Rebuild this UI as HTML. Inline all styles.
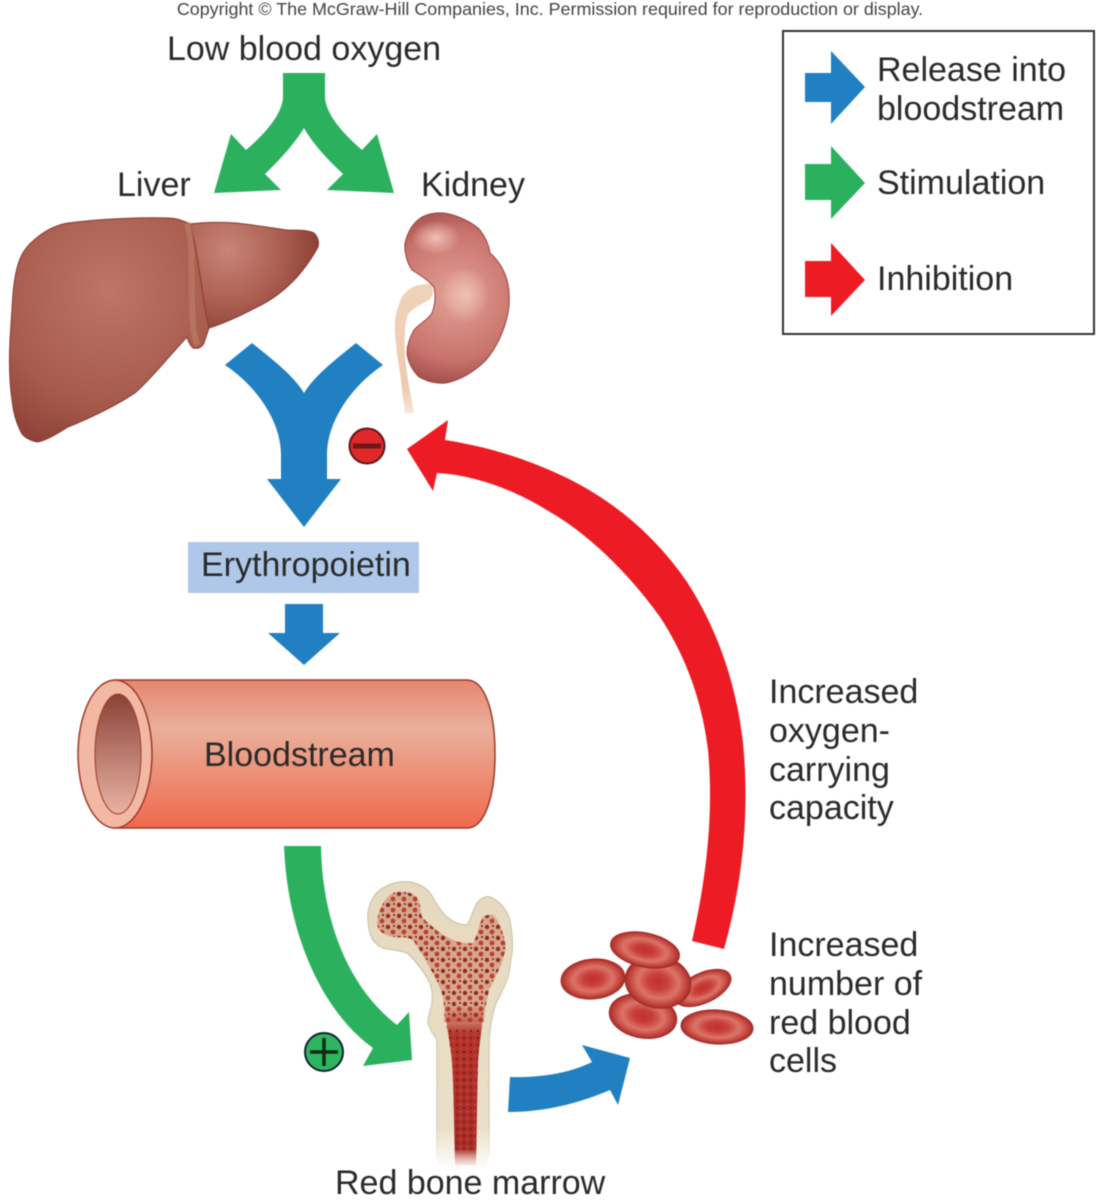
<!DOCTYPE html>
<html><head><meta charset="utf-8"><style>
html,body{margin:0;padding:0;background:#fff}
svg{display:block;filter:blur(.45px)}
text{font-family:"Liberation Sans",sans-serif;fill:#2a2a2a;font-size:34px}
</style></head><body>
<svg width="1099" height="1200" viewBox="0 0 1099 1200" xmlns="http://www.w3.org/2000/svg">
<defs>
<radialGradient id="liver" gradientUnits="userSpaceOnUse" cx="110" cy="290" r="190"><stop offset="0" stop-color="#bd7668"/><stop offset=".6" stop-color="#a65a4c"/><stop offset="1" stop-color="#86382f"/></radialGradient>
<radialGradient id="lobe" gradientUnits="userSpaceOnUse" cx="228" cy="250" r="95"><stop offset="0" stop-color="#c98578"/><stop offset=".6" stop-color="#a85c4e"/><stop offset="1" stop-color="#8b3c32"/></radialGradient>
<radialGradient id="kid" gradientUnits="userSpaceOnUse" cx="455" cy="295" r="100"><stop offset="0" stop-color="#e3a296"/><stop offset=".65" stop-color="#c8736c"/><stop offset="1" stop-color="#94403f"/></radialGradient>
<radialGradient id="kidhi" cx=".5" cy=".5" r=".5"><stop offset="0" stop-color="#f0c0b4"/><stop offset="1" stop-color="#f0c0b4" stop-opacity="0"/></radialGradient>
<linearGradient id="tube" x1="0" y1="0" x2="0" y2="1"><stop offset="0" stop-color="#e68670"/><stop offset=".33" stop-color="#eab09a"/><stop offset="1" stop-color="#f0694c"/></linearGradient>
<linearGradient id="inner" x1="0" y1="0" x2="0" y2="1"><stop offset="0" stop-color="#8a4238"/><stop offset="1" stop-color="#eab3a2"/></linearGradient>
<linearGradient id="ureter" x1="0" y1="0" x2="0" y2="1"><stop offset="0" stop-color="#f0d3ba"/><stop offset=".8" stop-color="#eecbb0"/><stop offset="1" stop-color="#f7e6da"/></linearGradient>
<linearGradient id="bone" x1="0" y1="0" x2="0" y2="1"><stop offset="0" stop-color="#e6d9bf"/><stop offset=".85" stop-color="#eadfc8"/><stop offset="1" stop-color="#fff"/></linearGradient>
<linearGradient id="bonestroke" x1="0" y1="0" x2="0" y2="1"><stop offset="0" stop-color="#cfcab0"/><stop offset=".85" stop-color="#d8d2b8"/><stop offset="1" stop-color="#fff"/></linearGradient>
<linearGradient id="marfade" x1="0" y1="0" x2="0" y2="1"><stop offset="0" stop-color="#b5332b" stop-opacity="0"/><stop offset=".18" stop-color="#b5332b"/><stop offset=".9" stop-color="#a92c26"/><stop offset="1" stop-color="#e9b5a5" stop-opacity=".3"/></linearGradient>
<radialGradient id="rbc" cx=".5" cy=".5" r=".5"><stop offset="0" stop-color="#c22f2e"/><stop offset=".3" stop-color="#c8403a"/><stop offset=".62" stop-color="#dc7468"/><stop offset=".85" stop-color="#c4483f"/><stop offset="1" stop-color="#a82c29"/></radialGradient>
<pattern id="spongy" width="11" height="11" patternUnits="userSpaceOnUse"><rect width="11" height="11" fill="#d9a68c"/><circle cx="3" cy="3" r="2.2" fill="#8c2c24"/><circle cx="8" cy="8" r="2.4" fill="#b8412f"/><circle cx="9" cy="2" r="1" fill="#6e1f1a"/></pattern>
<pattern id="marrow" width="7" height="7" patternUnits="userSpaceOnUse"><circle cx="2" cy="2" r="1.2" fill="#7f1d1c"/><circle cx="5.500" cy="5.500" r="1" fill="#c94f3c"/></pattern>
</defs>

<text x="550" y="15" text-anchor="middle" style="font-size:17.9px;fill:#444">Copyright © The McGraw-Hill Companies, Inc. Permission required for reproduction or display.</text>
<text x="304" y="60" text-anchor="middle">Low blood oxygen</text>
<text x="117" y="196">Liver</text>
<text x="421" y="196">Kidney</text>

<!-- top green split arrow -->
<path d="M283 73H325L325 98Q327 120 362 150L377 134L394 193L327 190L343 174Q315 148 304 128Q292 148 265 174L281 190L214 193L231 134L246 150Q281 120 283 98Z" fill="#2bb15e"/>

<!-- liver -->
<path d="M13 293C16 262 22 250 34 240C46 230 56 225 68 223C100 219 140 217 169 218C176 218 182 220 190 224L214 270L209 328L204 343C202 348 197 349 193 348C190 345 188 341 187 337C170 355 152 378 135 393C112 408 90 418 68 427C58 433 46 441 37 442C28 440 22 436 20 430C15 420 13 410 12 400C9 380 9 360 10 340C11 325 12 310 13 293Z" fill="url(#liver)" stroke="#8a3b31" stroke-width="1"/>
<path d="M190 224C205 222 220 222 236 223C255 225 272 228 287 230C298 230 308 230 314 233C319 238 319 243 318 247C312 258 305 268 297 277C285 290 272 300 257 307C240 316 225 323 209 328C202 300 200 260 190 224Z" fill="url(#lobe)" stroke="#8a3b31" stroke-width="1"/>
<path d="M187 223C195 250 190 290 193 325C194 335 196 342 198 345" stroke="#b8735f" stroke-width="6" fill="none"/>

<!-- kidney -->
<path d="M432 284C418 283 408 288 402 297C396 310 394 320 395 333C396 348 398 360 400 373C402 388 403 400 405 413H414C412 400 409 388 407 373C405 360 404 345 405 333C405 325 406 318 409 313C415 307 422 304 429 300C433 296 434 290 432 284Z" fill="url(#ureter)"/>
<path d="M405 243C408 230 414 222 422 217C432 212 443 212 453 215C465 219 474 224 480 230C486 238 489 245 490 253C498 260 504 270 507 280C510 292 510 302 508 313C504 332 496 348 486 360C474 372 460 380 446 383C435 384 426 381 419 377C412 370 408 362 407 353C407 345 410 337 414 330C420 323 428 320 432 313C435 305 436 296 434 287C428 280 420 275 412 270C407 263 404 251 405 243Z" fill="url(#kid)" stroke="#9a4442" stroke-width="1"/>
<ellipse cx="436" cy="238" rx="24" ry="17" fill="url(#kidhi)"/>
<ellipse cx="465" cy="295" rx="24" ry="28" fill="url(#kidhi)"/>

<!-- blue Y arrow -->
<path d="M225 365C255 385 281 420 281 455V479H267L304 527L341 479H327V455C327 420 353 385 383 365L356 343C335 360 315 375 304 393C293 375 273 360 252 343Z" fill="#2080c2"/>

<!-- minus -->
<circle cx="367" cy="446" r="17.5" fill="#e0282a" stroke="#5c1a1a" stroke-width="2"/>
<rect x="353" y="443.500" width="28" height="5" fill="#6a1a1a"/>

<!-- erythropoietin -->
<rect x="188" y="542" width="231" height="51" fill="#afc8e9"/>
<text x="201" y="576">Erythropoietin</text>
<path d="M285 604H323V633H340L304 665L268 633H285Z" fill="#2080c2"/>

<!-- bloodstream tube -->
<path d="M115 680H467C485 680 495 712 495 754C495 796 485 828 467 828H115Z" fill="url(#tube)" stroke="#9a3a2a" stroke-width="1.500"/>
<ellipse cx="115" cy="754" rx="37" ry="74" fill="#f3b8a4" stroke="#9a3a2a" stroke-width="1.500"/>
<ellipse cx="118" cy="754" rx="23" ry="60" fill="url(#inner)" stroke="#9a3a2a" stroke-width="1"/>
<text x="204" y="766">Bloodstream</text>

<!-- green curved arrow -->
<path d="M284 846H321C322 915 345 985 397 1025L409 1012L412 1060L363 1066L373 1048C320 1010 287 930 284 846Z" fill="#2bb15e"/>
<circle cx="324" cy="1052" r="19" fill="#2fb55f" stroke="#123" stroke-width="2"/>
<path d="M310 1052H338M324 1038V1066" stroke="#0e2a18" stroke-width="3.500"/>

<!-- bone -->
<path d="M368 913C370 900 375 894 380 890C390 883 400 881 410 882C420 884 426 888 430 893C436 903 441 912 447 917C453 922 460 925 467 925C472 918 473 909 477 903C481 898 485 896 490 897C498 900 505 908 509 917C512 930 513 942 512 953C510 962 510 970 508 977C504 988 500 996 496 1003C491 1018 489 1032 489 1047V1153C487 1160 484 1165 480 1170H445C440 1165 438 1160 437 1157V1040C434 1035 430 1030 428 1023C428 1015 431 1010 432 1003C433 995 432 990 430 983C423 970 415 960 407 953C400 950 391 950 383 948C376 945 372 940 370 933C368 926 368 920 368 913Z" fill="url(#bone)" stroke="url(#bonestroke)" stroke-width="1.500"/>
<path d="M377 923C378 910 385 897 393 893C402 890 411 892 417 897C421 904 420 911 422 917C430 925 438 932 447 937C456 942 465 944 473 943C478 935 478 925 483 917C488 914 492 914 495 917C501 925 504 935 506 947C503 962 497 975 490 987C487 998 485 1008 484 1022H444C445 1010 444 1000 441 990C433 972 423 955 413 940C406 936 400 938 393 937C384 935 378 932 377 923Z" fill="url(#spongy)"/>
<path d="M444 1005H484C482 1030 479 1045 478 1063C477 1095 477 1125 476 1165H455C454 1125 454 1095 452 1063C451 1045 447 1030 444 1005Z" fill="url(#marfade)"/>
<path d="M446 1025H482C480 1040 478 1050 478 1063C477 1095 477 1125 476 1150H455C454 1125 454 1095 452 1063C451 1050 449 1040 446 1025Z" fill="url(#marrow)"/>

<!-- blue curved arrow -->
<path d="M510 1077C540 1078 570 1073 592 1062L582 1045L630 1058L618 1105L610 1090C580 1103 545 1112 508 1112Z" fill="#2080c2"/>

<!-- red blood cells -->
<g fill="url(#rbc)" stroke="#a32a28" stroke-width="1">
<ellipse cx="703" cy="988" rx="30" ry="15" transform="rotate(-25 703 988)"/>
<ellipse cx="593" cy="979" rx="32" ry="20" transform="rotate(-5 593 979)"/>
<ellipse cx="643" cy="1016" rx="34" ry="22" transform="rotate(10 643 1016)"/>
<ellipse cx="658" cy="982" rx="33" ry="26" transform="rotate(10 658 982)"/>
<ellipse cx="645" cy="950" rx="35" ry="17" transform="rotate(12 645 950)"/>
<ellipse cx="717" cy="1027" rx="36" ry="17" transform="rotate(3 717 1027)"/>
</g>

<!-- red feedback arrow -->
<path d="M724 949C742 885 750 815 743 743C736 680 715 625 687 582C655 535 612 500 567 478C530 460 490 447 445 440L448 420L407 449L433 491L437 473C475 475 515 490 550 512C590 535 630 575 660 617C685 655 702 700 708 750C714 815 706 880 692 941Z" fill="#ed1c24"/>

<text x="769" y="703">Increased</text>
<text x="769" y="742">oxygen-</text>
<text x="769" y="781">carrying</text>
<text x="769" y="819">capacity</text>
<text x="769" y="956">Increased</text>
<text x="769" y="995">number of</text>
<text x="769" y="1034">red blood</text>
<text x="769" y="1072">cells</text>
<text x="335" y="1194">Red bone marrow</text>

<!-- legend -->
<rect x="783" y="31" width="311" height="303" fill="#fff" stroke="#333" stroke-width="2"/>
<path d="M805 73H831V51L865 87L831 124V102H805Z" fill="#2080c2"/>
<path d="M805 164H831V146L865 183L831 219V200H805Z" fill="#2bb15e"/>
<path d="M805 261H831V243L865 280L831 316V297H805Z" fill="#ed1c24"/>
<text x="877" y="81">Release into</text>
<text x="877" y="120">bloodstream</text>
<text x="877" y="194">Stimulation</text>
<text x="877" y="290">Inhibition</text>
</svg>
</body></html>
